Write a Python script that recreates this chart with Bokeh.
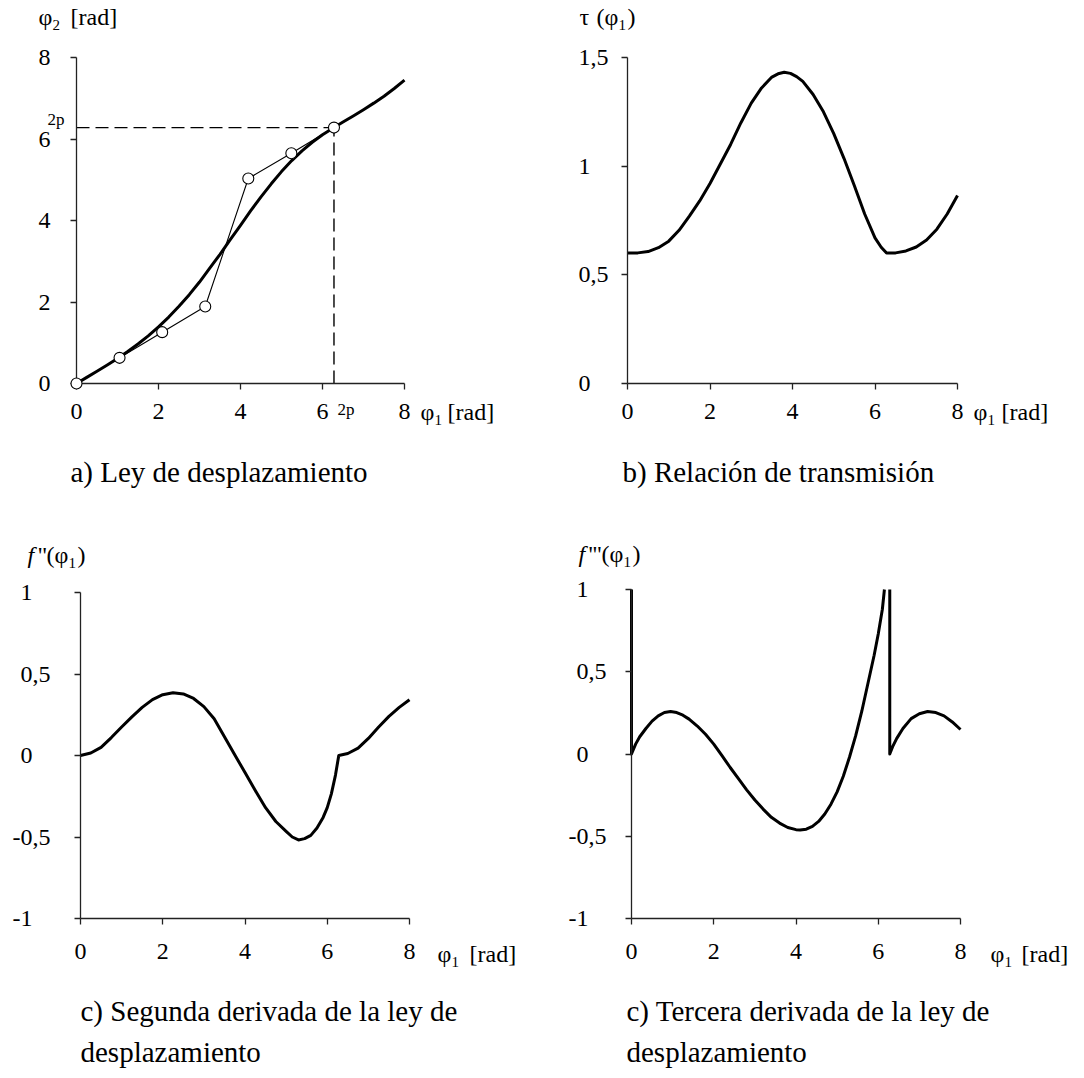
from bokeh.plotting import figure
from bokeh.models import Range1d, FixedTicker, Label, LabelSet, LinearAxis, ColumnDataSource
from bokeh.layouts import column, row
from bokeh.embed import file_html
from bokeh.resources import INLINE

SERIF = "Liberation Serif"
INK = "#000000"
AXIS_INK = "#222222"

# ---------------- data ----------------
x_ticks = [0, 2, 4, 6, 8]
x_tick_labels = ["0", "2", "4", "6", "8"]

disp_y_ticks = [0, 2, 4, 6, 8]
disp_y_labels = ["0", "2", "4", "6", "8"]
ratio_y_ticks = [0, 0.5, 1, 1.5]
ratio_y_labels = ["0", "0,5", "1", "1,5"]
deriv_y_ticks = [-1, -0.5, 0, 0.5, 1]
deriv_y_labels = ["-1", "-0,5", "0", "0,5", "1"]

two_pi = 6.28

# a) displacement law phi2(phi1)
disp_phi1 = [0, 0.25, 0.5, 0.75, 1.0, 1.25, 1.5, 1.75, 2.0, 2.25, 2.5, 2.75, 3.0,
             3.25, 3.5, 3.75, 4.0, 4.25, 4.5, 4.75, 5.0, 5.25, 5.5, 5.75, 6.0,
             6.28, 6.5, 6.75, 7.0, 7.25, 7.5, 7.75, 8.0]
disp_phi2 = [0, 0.15, 0.30, 0.455, 0.615, 0.785, 0.97, 1.17, 1.39, 1.63, 1.895,
             2.18, 2.49, 2.83, 3.17, 3.53, 3.88, 4.24, 4.58, 4.90, 5.20, 5.47,
             5.71, 5.92, 6.105, 6.28, 6.415, 6.565, 6.72, 6.88, 7.05, 7.24, 7.445]
# discrete positions joined by a thin polyline
step_phi1 = [0, 1.05, 2.09, 3.14, 4.19, 5.24, 6.28]
step_phi2 = [0, 0.63, 1.26, 1.89, 5.03, 5.65, 6.28]

# b) transmission ratio tau(phi1)
tau_phi1 = [0, 0.25, 0.5, 0.75, 1.0, 1.25, 1.5, 1.75, 2.0, 2.25, 2.5, 2.75, 3.0,
            3.25, 3.5, 3.65, 3.8, 3.95, 4.1, 4.25, 4.5, 4.75, 5.0, 5.25, 5.5,
            5.75, 6.0, 6.15, 6.28, 6.5, 6.75, 7.0, 7.25, 7.5, 7.75, 8.0]
tau = [0.600, 0.601, 0.607, 0.625, 0.655, 0.705, 0.77, 0.84, 0.92, 1.01, 1.10,
       1.20, 1.29, 1.36, 1.41, 1.425, 1.432, 1.427, 1.412, 1.39, 1.33, 1.25,
       1.15, 1.035, 0.91, 0.78, 0.67, 0.627, 0.600, 0.601, 0.61, 0.628, 0.66,
       0.71, 0.78, 0.865]

# c) second derivative f''(phi1)
f2_phi1 = [0, 0.25, 0.5, 0.75, 1.0, 1.25, 1.5, 1.75, 2.0, 2.25, 2.5, 2.75, 3.0,
           3.25, 3.5, 3.75, 4.0, 4.25, 4.5, 4.75, 5.0, 5.15, 5.3, 5.45, 5.6,
           5.75, 5.9, 6.0, 6.1, 6.2, 6.28, 6.5, 6.75, 7.0, 7.25, 7.5, 7.75, 8.0]
f2 = [0, 0.015, 0.05, 0.11, 0.175, 0.237, 0.295, 0.343, 0.373, 0.385, 0.378,
      0.35, 0.30, 0.225, 0.115, 0.005, -0.105, -0.215, -0.32, -0.405, -0.465,
      -0.50, -0.518, -0.51, -0.49, -0.445, -0.38, -0.32, -0.235, -0.12, 0.0,
      0.012, 0.045, 0.105, 0.175, 0.24, 0.295, 0.342]

# d) third derivative f'''(phi1), two branches
f3a_phi1 = [0, 0, 0.1, 0.2, 0.35, 0.5, 0.65, 0.8, 0.95, 1.1, 1.25, 1.4, 1.6,
            1.8, 2.0, 2.2, 2.4, 2.6, 2.8, 3.0, 3.2, 3.4, 3.6, 3.8, 4.0, 4.1,
            4.25, 4.4, 4.55, 4.7, 4.85, 5.0, 5.15, 5.3, 5.45, 5.6, 5.75, 5.9,
            6.0, 6.1, 6.15]
f3a = [1.0, 0.0, 0.06, 0.105, 0.155, 0.2, 0.232, 0.252, 0.258, 0.252, 0.236,
       0.212, 0.17, 0.12, 0.06, -0.01, -0.082, -0.15, -0.218, -0.28, -0.335,
       -0.385, -0.42, -0.447, -0.46, -0.462, -0.457, -0.44, -0.41, -0.365,
       -0.305, -0.23, -0.135, -0.02, 0.11, 0.26, 0.43, 0.6, 0.73, 0.88, 1.0]
f3b_phi1 = [6.28, 6.28, 6.35, 6.45, 6.6, 6.8, 7.0, 7.2, 7.4, 7.6, 7.8, 8.0]
f3b = [1.0, 0.0, 0.045, 0.095, 0.155, 0.215, 0.245, 0.258, 0.252, 0.232, 0.195, 0.149]


# ---------------- helpers ----------------
def panel(ox, oy, w, h, ax_left, ax_right, ax_top, ax_bottom, y_lo, y_hi,
          y_ticks, y_labels, label_left, x_standoff):
    """One figure whose plotting frame fills it; the axes sit at fixed data locations."""
    kx = (ax_right - ax_left) / 8.0
    ky = (ax_bottom - ax_top) / (y_hi - y_lo)
    p = figure(width=w, height=h, output_backend="svg", toolbar_location=None,
               x_range=Range1d(-ax_left / kx, (w - ax_left) / kx),
               y_range=Range1d(y_lo - (h - ax_bottom) / ky, y_hi + ax_top / ky),
               x_axis_location=None, y_axis_location=None,
               min_border_left=0, min_border_right=0, min_border_top=0, min_border_bottom=0)
    p.outline_line_color = None
    p.grid.visible = False
    p.background_fill_color = "white"
    p.border_fill_color = "white"

    xa = LinearAxis(fixed_location=y_lo, bounds=(0, 8), ticker=FixedTicker(ticks=x_ticks),
                    major_label_overrides={t: s for t, s in zip(x_ticks, x_tick_labels)},
                    major_label_text_font=SERIF, major_label_text_font_size="24px",
                    major_label_text_color=INK, major_label_standoff=x_standoff,
                    minor_tick_line_color=None, major_tick_in=0, major_tick_out=6,
                    axis_line_color=AXIS_INK, major_tick_line_color=AXIS_INK,
                    axis_line_width=1.3, major_tick_line_width=1.3)
    p.add_layout(xa, "below")

    ya = LinearAxis(fixed_location=0, bounds=(y_lo, y_hi), ticker=FixedTicker(ticks=y_ticks),
                    major_label_overrides={t: "" for t in y_ticks},
                    minor_tick_line_color=None, major_tick_in=0, major_tick_out=6,
                    axis_line_color=AXIS_INK, major_tick_line_color=AXIS_INK,
                    axis_line_width=1.3, major_tick_line_width=1.3)
    p.add_layout(ya, "left")

    # left-aligned value labels, the minus sign hanging out to the left
    lx = [((label_left - ax_left) - (8 if s.startswith("-") else 0)) / kx for s in y_labels]
    src = ColumnDataSource(dict(x=lx, y=y_ticks, text=y_labels))
    p.add_layout(LabelSet(x="x", y="y", text="text", source=src,
                          text_align="left", text_baseline="middle",
                          text_font=SERIF, text_font_size="24px", text_color=INK))

    geo = dict(ox=ox, oy=oy, ax_left=ax_left, ax_bottom=ax_bottom, kx=kx, ky=ky, y_lo=y_lo)
    return p, geo


def put(p, geo, text, X, Y, size=24, style="normal"):
    """Place a text whose baseline starts near page pixel (X, Y)."""
    Y = Y - 0.36 * size   # compensate the renderer's baseline placement
    x = (X - geo["ox"] - geo["ax_left"]) / geo["kx"]
    y = geo["y_lo"] + (geo["oy"] + geo["ax_bottom"] - Y) / geo["ky"]
    p.add_layout(Label(x=x, y=y, text=text, text_font=SERIF,
                       text_font_size=f"{size}px", text_font_style=style,
                       text_color=INK, text_align="left", text_baseline="alphabetic"))


def phi_sub(p, geo, X, Y, sub, tail=None, tail_dx=0):
    put(p, geo, "φ", X, Y)
    put(p, geo, sub, X + 14, Y + 5, size=15)
    if tail:
        put(p, geo, tail, X + tail_dx, Y)


# ---------------- a) Ley de desplazamiento ----------------
pa, ga = panel(0, 0, 542, 540, 76, 404, 57, 383, 0, 8,
               disp_y_ticks, disp_y_labels, label_left=38, x_standoff=14)
pa.line([0, two_pi], [two_pi, two_pi], line_color=INK, line_width=1.4, line_dash="13 6")
pa.line([two_pi, two_pi], [0, two_pi], line_color=INK, line_width=1.4, line_dash="13 6")
pa.line(disp_phi1, disp_phi2, line_color=INK, line_width=3, line_join="round")
steps_line = pa.line(step_phi1, step_phi2, line_color=INK, line_width=1.1)
steps_dots = pa.scatter(step_phi1, step_phi2, size=11, marker="circle", fill_color="white",
                        line_color=INK, line_width=1.1)
steps_line.level = "overlay"
steps_dots.level = "overlay"
put(pa, ga, "φ", 38, 25)
put(pa, ga, "2", 52, 30, size=15)
put(pa, ga, "[rad]", 70, 25)
put(pa, ga, "2p", 47, 125, size=17)
put(pa, ga, "2p", 337, 415, size=17)
phi_sub(pa, ga, 420, 420, "1", "[rad]", 27)
put(pa, ga, "a) Ley de desplazamiento", 70, 482, size=29)

# ---------------- b) Relación de transmisión ----------------
pb, gb = panel(542, 0, 542, 540, 85, 415, 57, 383, 0, 1.5,
               ratio_y_ticks, ratio_y_labels, label_left=578 - 542, x_standoff=14)
pb.line(tau_phi1, tau, line_color=INK, line_width=3, line_join="round")
put(pb, gb, "τ", 579, 25)
put(pb, gb, "(", 596, 25)
put(pb, gb, "φ", 604, 25)
put(pb, gb, "1", 618, 30, size=15)
put(pb, gb, ")", 627, 25)
phi_sub(pb, gb, 973, 420, "1", "[rad]", 28)
put(pb, gb, "b) Relación de transmisión", 622, 482, size=29)

# ---------------- c) Segunda derivada ----------------
pc, gc = panel(0, 540, 542, 538, 80, 409, 52, 378, -1, 1,
               deriv_y_ticks, deriv_y_labels, label_left=20, x_standoff=19)
pc.line(f2_phi1, f2, line_color=INK, line_width=3, line_join="round")
put(pc, gc, "f", 27, 563, style="italic")
put(pc, gc, '"', 37, 563)
put(pc, gc, "(", 46, 563)
put(pc, gc, "φ", 54, 563)
put(pc, gc, "1", 68, 568, size=15)
put(pc, gc, ")", 77, 563)
phi_sub(pc, gc, 437, 962, "1", "[rad]", 32)
put(pc, gc, "c) Segunda derivada de la ley de", 80, 1021, size=29)
put(pc, gc, "desplazamiento", 80, 1062, size=29)

# ---------------- d) Tercera derivada ----------------
pd_, gd = panel(542, 540, 542, 538, 89, 418, 49, 378, -1, 1,
                deriv_y_ticks, deriv_y_labels, label_left=576 - 542, x_standoff=19)
pd_.line(f3a_phi1, f3a, line_color=INK, line_width=3, line_join="round")
pd_.line(f3b_phi1, f3b, line_color=INK, line_width=3, line_join="round")
put(pd_, gd, "f", 578, 562, style="italic")
put(pd_, gd, "'''", 588, 562)
put(pd_, gd, "(", 601, 562)
put(pd_, gd, "φ", 609, 562)
put(pd_, gd, "1", 623, 567, size=15)
put(pd_, gd, ")", 632, 562)
phi_sub(pd_, gd, 990, 962, "1", "[rad]", 31)
put(pd_, gd, "c) Tercera derivada de la ley de", 626, 1021, size=29)
put(pd_, gd, "desplazamiento", 626, 1062, size=29)

layout = column(row(pa, pb), row(pc, pd_))
open("out.html", "w").write(file_html(layout, INLINE))
